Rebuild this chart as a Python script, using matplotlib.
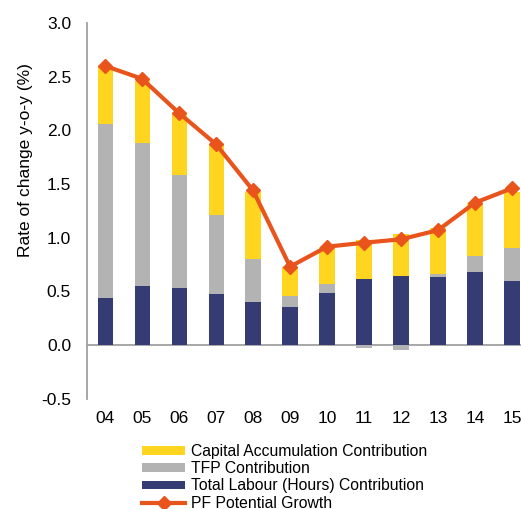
import matplotlib
matplotlib.use("Agg")
import matplotlib.pyplot as plt
import numpy as np

plt.rcParams['font.family'] = ['Liberation Sans', 'DejaVu Sans']

years = ["04", "05", "06", "07", "08", "09", "10", "11", "12", "13", "14", "15"]
labour = [0.44, 0.55, 0.53, 0.475, 0.40, 0.357, 0.487, 0.618, 0.643, 0.637, 0.683, 0.60]
tfp = [1.62, 1.33, 1.05, 0.735, 0.40, 0.10, 0.084, -0.025, -0.047, 0.025, 0.15, 0.30]
capital = [0.53, 0.58, 0.58, 0.66, 0.63, 0.27, 0.34, 0.36, 0.39, 0.425, 0.49, 0.53]
potential = [2.60, 2.48, 2.16, 1.87, 1.44, 0.73, 0.916, 0.953, 0.985, 1.07, 1.326, 1.46]

c_cap = "#FFD520"
c_tfp = "#B3B3B3"
c_lab = "#353B73"
c_line = "#E8541C"

W, H = 521, 509
fig = plt.figure(figsize=(W / 100, H / 100), dpi=100)
ax = fig.add_axes([87 / W, 1 - 398.7 / H, 443.5 / W, 375.7 / H])

x = np.arange(len(years))
lab = np.array(labour)
tf = np.array(tfp)
cp = np.array(capital)
bw = 0.41

h_lab = ax.bar(x, lab, bw, color=c_lab, zorder=2)
tf_bottom = np.where(tf >= 0, lab, 0)
h_tfp = ax.bar(x, tf, bw, bottom=tf_bottom, color=c_tfp, zorder=2)
cap_bottom = lab + np.clip(tf, 0, None)
h_cap = ax.bar(x, cp, bw, bottom=cap_bottom, color=c_cap, zorder=2)
h_line, = ax.plot(x, potential, color=c_line, lw=3, marker="D", ms=7, mec=c_line, mfc=c_line,
                  zorder=3)

ax.axhline(0, color="#A0A0A0", lw=1.3, zorder=1)

ax.set_xlim(-0.49, 11.5)
ax.set_ylim(-0.5, 3.0)
ax.set_yticks(np.arange(-0.5, 3.01, 0.5))
ax.set_yticklabels([f"{v:.1f}" for v in np.arange(-0.5, 3.01, 0.5)])
ax.set_xticks(x)
ax.set_xticklabels(years)
ax.tick_params(axis="both", length=0, labelsize=12.5, colors="black")
ax.tick_params(axis="y", pad=11.5)
ax.tick_params(axis="x", pad=9)

for s in ["top", "right", "bottom"]:
    ax.spines[s].set_visible(False)
ax.spines["left"].set_color("#A0A0A0")
ax.spines["left"].set_linewidth(1.3)

fig.text(26 / W, 1 - 160 / H, "Rate of change y-o-y (%)", rotation=90,
         ha="center", va="center", fontsize=12.5)

leg = fig.legend([h_cap, h_tfp, h_lab, h_line],
                 ["Capital Accumulation Contribution", "TFP Contribution",
                  "Total Labour (Hours) Contribution", "PF Potential Growth"],
                 loc="upper left", bbox_to_anchor=(142 / W, 1 - 444.0 / H),
                 bbox_transform=fig.transFigure, frameon=False, fontsize=11.3,
                 borderpad=0, borderaxespad=0, labelspacing=0.14,
                 handlelength=2.75, handleheight=0.45, handletextpad=0.35)

fig.savefig("out.png", dpi=100)
